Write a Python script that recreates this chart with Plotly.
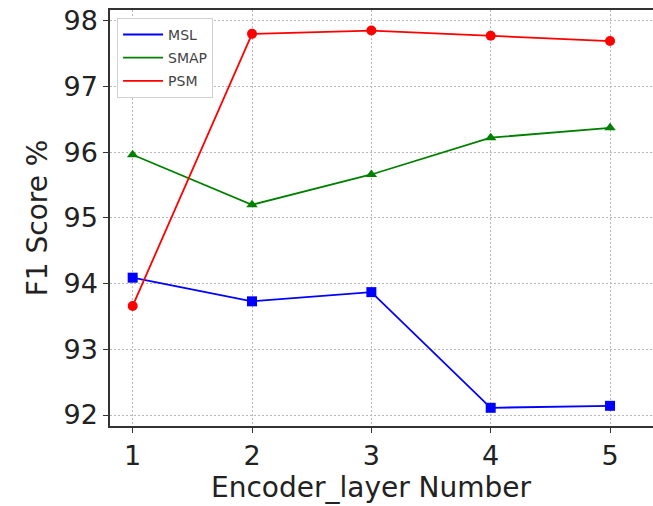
import plotly.graph_objects as go

layers = [1, 2, 3, 4, 5]
msl = [94.09, 93.73, 93.87, 92.11, 92.14]
smap = [95.96, 95.20, 95.66, 96.22, 96.37]
psm = [93.66, 97.80, 97.85, 97.77, 97.69]

series = [
    ("MSL", msl, "#0000ff", "square"),
    ("SMAP", smap, "#008000", "triangle-up"),
    ("PSM", psm, "#ff0000", "circle"),
]

fig = go.Figure()
for name, vals, color, sym in series:
    fig.add_trace(go.Scatter(
        x=layers, y=vals, mode="lines+markers", name=name,
        line=dict(color=color, width=1.8),
        marker=dict(symbol=sym, size=10, color=color),
        showlegend=False,
    ))
for name, vals, color, sym in series:
    fig.add_trace(go.Scatter(
        x=[None], y=[None], mode="lines", name=name,
        line=dict(color=color, width=1.8),
        legendgroup=name, showlegend=True,
    ))

tickfont = dict(family="DejaVu Sans", size=27, color="#222222")
fig.update_layout(
    width=653, height=506,
    margin=dict(l=110, r=0, t=10, b=80),
    plot_bgcolor="white", paper_bgcolor="white",
    showlegend=True,
    legend=dict(
        x=0.013, y=0.981, xanchor="left", yanchor="top",
        bgcolor="white", bordercolor="#d0d0d0", borderwidth=1,
        font=dict(family="DejaVu Sans", size=14, color="#444444"),
        tracegroupgap=2, itemwidth=40,
    ),
    xaxis=dict(
        range=[0.81, 5.36], tickvals=layers, ticktext=[str(v) for v in layers],
        tickfont=tickfont, ticks="outside", ticklen=5, tickcolor="#333333",
        showline=True, linecolor="#333333", linewidth=1.5, mirror=True,
        showgrid=True, gridcolor="#b8b8b8", gridwidth=1, griddash="2px,2px",
        zeroline=False,
    ),
    yaxis=dict(
        range=[91.833, 98.163], tickvals=[92, 93, 94, 95, 96, 97, 98],
        tickfont=tickfont, ticks="outside", ticklen=5, tickcolor="#333333",
        showline=True, linecolor="#333333", linewidth=1.5,
        showgrid=True, gridcolor="#b8b8b8", gridwidth=1, griddash="2px,2px",
        zeroline=False,
        title=dict(text="F1 Score %", font=dict(family="DejaVu Sans", size=28, color="#222222"), standoff=8),
    ),
    annotations=[dict(
        x=3, y=-0.149, xref="x", yref="paper", yanchor="middle",
        text="Encoder_layer Number", showarrow=False,
        font=dict(family="DejaVu Sans", size=28, color="#222222"),
    )],
)

fig.write_html("out.html")
